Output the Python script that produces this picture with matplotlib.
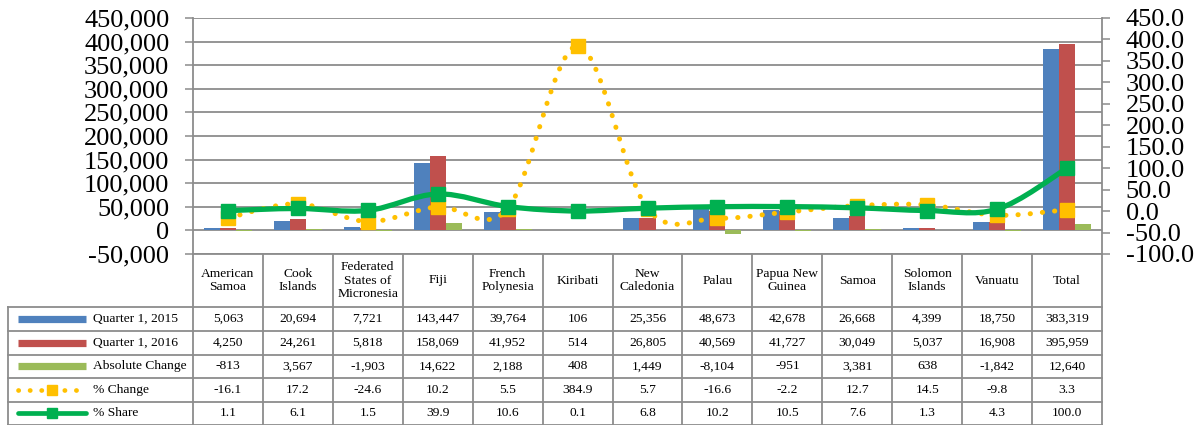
import matplotlib.pyplot as plt
import numpy as np
from matplotlib.path import Path
from matplotlib.patches import PathPatch
from matplotlib.ticker import FuncFormatter, MultipleLocator

plt.rcParams['font.family'] = ['Liberation Serif', 'DejaVu Serif']

# data
countries = ['American\nSamoa', 'Cook\nIslands', 'Federated\nStates of\nMicronesia', 'Fiji',
             'French\nPolynesia', 'Kiribati', 'New\nCaledonia', 'Palau', 'Papua New\nGuinea',
             'Samoa', 'Solomon\nIslands', 'Vanuatu', 'Total']
q1_2015 = [5063, 20694, 7721, 143447, 39764, 106, 25356, 48673, 42678, 26668, 4399, 18750, 383319]
q1_2016 = [4250, 24261, 5818, 158069, 41952, 514, 26805, 40569, 41727, 30049, 5037, 16908, 395959]
abs_change = [-813, 3567, -1903, 14622, 2188, 408, 1449, -8104, -951, 3381, 638, -1842, 12640]
pct_change = [-16.1, 17.2, -24.6, 10.2, 5.5, 384.9, 5.7, -16.6, -2.2, 12.7, 14.5, -9.8, 3.3]
pct_share = [1.1, 6.1, 1.5, 39.9, 10.6, 0.1, 6.8, 10.2, 10.5, 7.6, 1.3, 4.3, 100.0]

c_blue, c_red, c_lgreen = '#4F81BD', '#C0504D', '#9BBB59'
c_gold, c_green = '#FFC000', '#00B050'
c_grid = '#8C8C8C'

W, H = 1201, 425
fig = plt.figure(figsize=(W / 100, H / 100), dpi=100)

# plot area in pixels
L, R, T, B = 193, 1102, 18, 254
ax = fig.add_axes([L / W, 1 - B / H, (R - L) / W, (B - T) / H])
n = len(countries)
x = np.arange(n)
bw = 0.229

ax.bar(x - bw, q1_2015, bw, color=c_blue, zorder=2)
ax.bar(x, q1_2016, bw, color=c_red, zorder=2)
ax.bar(x + bw, abs_change, bw, color=c_lgreen, zorder=2)

ax.set_xlim(-0.5, n - 0.5)
ax.set_ylim(-50000, 450000)
ax.yaxis.set_major_locator(MultipleLocator(50000))
ax.yaxis.set_major_formatter(FuncFormatter(lambda v, p: f'{int(v):,}'))
ax.yaxis.grid(True, color=c_grid, lw=1.3, zorder=0)
ax.set_axisbelow(True)
ax.set_xticks([])
ax.tick_params(axis='y', labelsize=19, length=6, width=1.1, color=c_grid, pad=11)
for s in ['top', 'right']:
    ax.spines[s].set_visible(False)
for s in ['left', 'bottom']:
    ax.spines[s].set_color(c_grid)
    ax.spines[s].set_linewidth(1.3)

ax2 = ax.twinx()
ax2.set_ylim(-100, 450)
ax2.yaxis.set_major_locator(MultipleLocator(50))
ax2.yaxis.set_major_formatter(FuncFormatter(lambda v, p: f'{v:.1f}'))
ax2.tick_params(axis='y', labelsize=19, length=6, width=1.1, color=c_grid, pad=11)
for s in ['top', 'left', 'bottom']:
    ax2.spines[s].set_visible(False)
ax2.spines['right'].set_color(c_grid)
ax2.spines['right'].set_linewidth(1.3)


def smooth_path(xs, ys):
    # Excel-like smoothed line: bezier segments through the points
    pts = np.column_stack([xs, ys]).astype(float)
    verts = [pts[0]]
    codes = [Path.MOVETO]
    for i in range(len(pts) - 1):
        p0 = pts[max(i - 1, 0)]
        p1 = pts[i]
        p2 = pts[i + 1]
        p3 = pts[min(i + 2, len(pts) - 1)]
        verts += [p1 + (p2 - p0) / 6, p2 - (p3 - p1) / 6, p2]
        codes += [Path.CURVE4] * 3
    return Path(verts, codes)


ax2.add_patch(PathPatch(smooth_path(x, pct_change), fill=False, edgecolor=c_gold, lw=3.6,
                        linestyle=(0, (0.05, 2.4)), capstyle='round', zorder=3))
ax2.plot(x, pct_change, ls='none', marker='s', ms=10, color=c_gold, zorder=4)
ax2.add_patch(PathPatch(smooth_path(x, pct_share), fill=False, edgecolor=c_green, lw=3.8,
                        capstyle='round', zorder=5))
ax2.plot(x, pct_share, ls='none', marker='s', ms=10.5, color=c_green, zorder=6)

# data table below the plot
cw = (R - L) / n
X0 = 8
tab = fig.add_axes([X0 / W, 0, (R - X0) / W, 1 - B / H])
tab.set_xlim(-0.5 - (L - X0) / cw, n - 0.5)
tab.set_ylim(H, B)
tab.axis('off')


def xd(px):
    return -0.5 + (px - L) / cw


rows_y = [307, 331, 354.5, 378, 401.5, 424.5]
lkw = dict(color=c_grid, lw=1.3, clip_on=False)
for i in range(n + 1):
    tab.plot([i - 0.5, i - 0.5], [B, rows_y[-1]], **lkw)
tab.plot([xd(X0), xd(X0)], [rows_y[0], rows_y[-1]], **lkw)
for yy in rows_y:
    tab.plot([xd(X0), n - 0.5], [yy, yy], **lkw)

fs = 9.7
for i, c in enumerate(countries):
    tab.text(i, (B + rows_y[0]) / 2, c, ha='center', va='center', fontsize=fs, linespacing=1.15)

series = [q1_2015, q1_2016, abs_change]
row_vals = [[f'{v:,}' for v in s] for s in series]
row_vals += [[f'{v:.1f}' for v in pct_change], [f'{v:.1f}' for v in pct_share]]
row_names = ['Quarter 1, 2015', 'Quarter 1, 2016', 'Absolute Change', '% Change', '% Share']

for r in range(5):
    yc = (rows_y[r] + rows_y[r + 1]) / 2
    for i in range(n):
        tab.text(i, yc, row_vals[r][i], ha='center', va='center', fontsize=fs)
    tab.text(xd(93), yc, row_names[r], ha='left', va='center', fontsize=fs)

# legend keys
k0, k1 = xd(18), xd(86)
for r, col in enumerate([c_blue, c_red, c_lgreen]):
    yc = (rows_y[r] + rows_y[r + 1]) / 2
    tab.plot([k0, k1], [yc, yc], color=col, lw=5.2, solid_capstyle='butt')
yc = (rows_y[3] + rows_y[4]) / 2
tab.plot([k0, k1], [yc, yc], color=c_gold, lw=3.4, linestyle=(0, (0.05, 2.4)), dash_capstyle='round')
tab.plot([(k0 + k1) / 2], [yc], marker='s', ms=7, color=c_gold)
yc = (rows_y[4] + rows_y[5]) / 2
tab.plot([k0, k1], [yc, yc], color=c_green, lw=3.4, solid_capstyle='round')
tab.plot([(k0 + k1) / 2], [yc], marker='s', ms=7, color=c_green)

fig.savefig('out.png', dpi=100)
